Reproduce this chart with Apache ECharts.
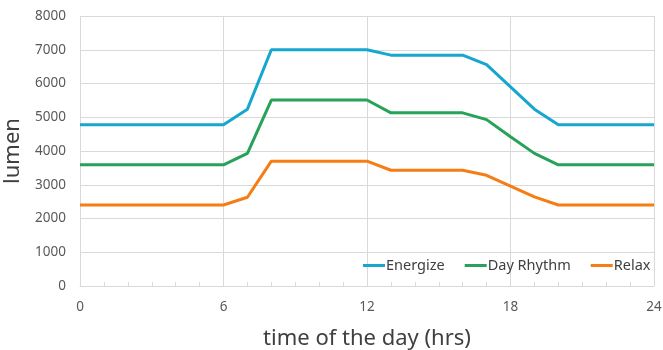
<!DOCTYPE html>
<html>
<head>
<meta charset="utf-8">
<script src="https://cdn.jsdelivr.net/npm/echarts@6/dist/echarts.min.js"></script>
<style>html,body{margin:0;padding:0;background:#fff}#c{width:663px;height:350px}</style>
</head>
<body>
<div id="c"></div>
<script>
const hours = [0, 6, 7, 8, 12, 13, 16, 17, 18, 19, 20, 24];
const energize = [4780, 4780, 5240, 7000, 7000, 6840, 6840, 6560, 5900, 5240, 4780, 4780];
const dayRhythm = [3590, 3590, 3930, 5510, 5510, 5130, 5130, 4930, 4420, 3930, 3590, 3590];
const relax = [2400, 2400, 2630, 3700, 3700, 3430, 3430, 3280, 2960, 2640, 2400, 2400];
const seriesNames = ['Energize', 'Day Rhythm', 'Relax'];
const colors = ['#16A7CF', '#27A258', '#F57D14'];
const yTicks = [0, 8000, 1000];
const xTicks = [0, 24, 6];

const pairs = v => hours.map((h, i) => [h, v[i]]);
const font = 'Noto Sans';
const chart = echarts.init(document.getElementById('c'));
chart.setOption({
  animation: false,
  textStyle: { fontFamily: font },
  grid: { left: 80, right: 9, top: 16, bottom: 64, containLabel: false, outerBoundsMode: 'none' },
  legend: {
    left: 358, top: 253,
    itemWidth: 22, itemHeight: 3, itemGap: 20,
    icon: 'rect',
    textStyle: { fontFamily: font, fontSize: 14.5, color: '#404040', padding: [0, 0, 0, -4] },
    data: seriesNames
  },
  xAxis: {
    type: 'value', min: xTicks[0], max: xTicks[1], interval: xTicks[2],
    name: 'time of the day (hrs)', nameLocation: 'middle', nameGap: 42,
    nameTextStyle: { fontFamily: font, fontSize: 22, color: '#404040' },
    axisLine: { show: true, lineStyle: { color: '#d9d9d9', width: 1 } },
    axisTick: { show: true, inside: true, length: 4, lineStyle: { color: '#d9d9d9' } },
    minorTick: { show: true, splitNumber: 6, length: 4, lineStyle: { color: '#d9d9d9' } },
    axisLabel: { fontFamily: font, fontSize: 13.5, color: '#595959', margin: 14 },
    splitLine: { show: true, lineStyle: { color: '#d9d9d9', width: 1 } }
  },
  yAxis: {
    type: 'value', min: yTicks[0], max: yTicks[1], interval: yTicks[2],
    name: 'lumen', nameLocation: 'middle', nameGap: 56,
    nameTextStyle: { fontFamily: font, fontSize: 22, color: '#404040' },
    axisLine: { show: false },
    axisTick: { show: false },
    axisLabel: { fontFamily: font, fontSize: 13.5, color: '#595959', margin: 14, formatter: v => String(v) },
    splitLine: { show: true, lineStyle: { color: '#d9d9d9', width: 1 } }
  },
  series: [energize, dayRhythm, relax].map((v, i) => ({
    name: seriesNames[i], type: 'line', data: pairs(v),
    showSymbol: false, symbol: 'none',
    lineStyle: { color: colors[i], width: 3 },
    itemStyle: { color: colors[i] }
  }))
});
</script>
</body>
</html>
